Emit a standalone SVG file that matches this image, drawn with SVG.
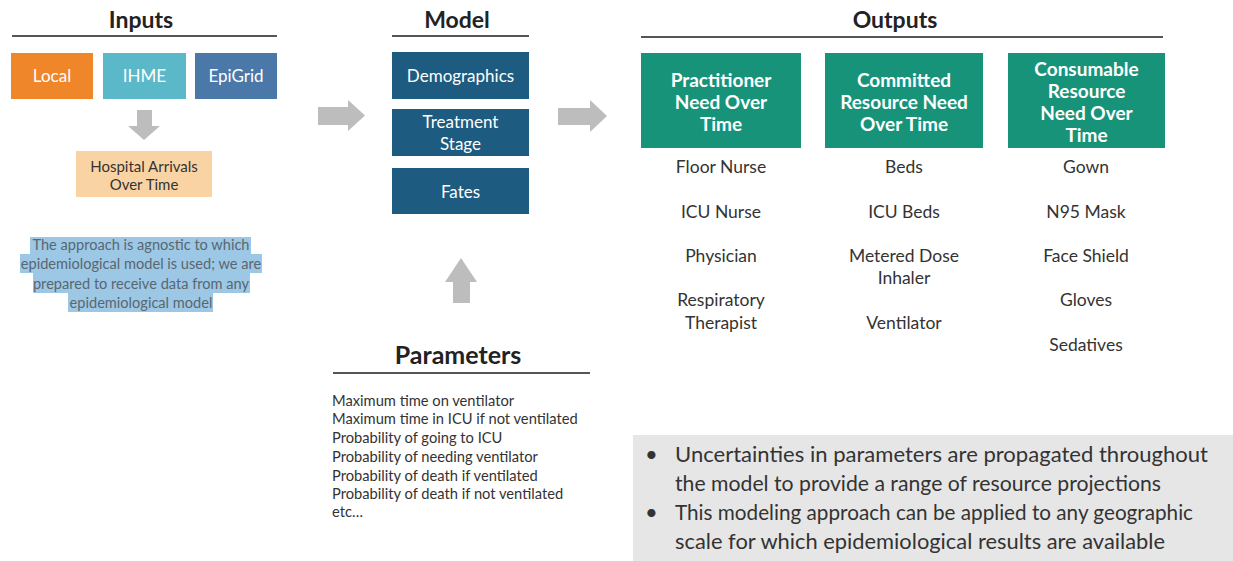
<svg xmlns="http://www.w3.org/2000/svg" width="1233" height="561" viewBox="0 0 1233 561">
<style>
.title{font-family:"Lato","Liberation Sans",sans-serif;font-weight:bold;font-size:23px;fill:#222;text-anchor:middle}
.rule{stroke:#555;stroke-width:2}
.wt{font-family:"Lato","Liberation Sans",sans-serif;font-size:17px;fill:#fff;text-anchor:middle}
.wb{font-family:"Lato","Liberation Sans",sans-serif;font-size:19px;font-weight:bold;fill:#fff;text-anchor:middle}
.dk{font-family:"Lato","Liberation Sans",sans-serif;font-size:17.5px;fill:#333;text-anchor:middle}
.hl{font-family:"Lato","Liberation Sans",sans-serif;font-size:14.6px;fill:#5a6670;text-anchor:middle}
.pm{font-family:"Lato","Liberation Sans",sans-serif;font-size:14.7px;fill:#333}
.bl{font-family:"Lato","Liberation Sans",sans-serif;font-size:22px;fill:#333}
.arrow{fill:#BDBDBD}
.model{fill:#1D5B80}
.out{fill:#17937A}
</style>
<rect width="1233" height="561" fill="#fff"/>

<g id="inputs-title">
<text class="title" x="141" y="28">Inputs</text>
<line class="rule" x1="12" y1="36" x2="277" y2="36"/>
</g>
<g id="node-local">
<rect x="11" y="53" width="82" height="46" fill="#F0862A"/>
<text class="wt" x="52" y="82">Local</text>
</g>
<g id="node-ihme">
<rect x="103" y="53" width="83" height="46" fill="#5BB8C8"/>
<text class="wt" x="144.5" y="82">IHME</text>
</g>
<g id="node-epigrid">
<rect x="195" y="53" width="82" height="46" fill="#4A78A8"/>
<text class="wt" x="236" y="82">EpiGrid</text>
</g>
<g id="node-arrivals">
<rect x="76" y="151" width="136" height="46" fill="#FAD3A5"/>
<text class="dk" x="144" y="172" style="font-size:15px">Hospital Arrivals</text>
<text class="dk" x="144" y="190" style="font-size:15px">Over Time</text>
</g>
<g id="note-agnostic">
<rect x="30" y="237" width="221" height="17" fill="#9CC8E6"/>
<rect x="20" y="254" width="242" height="19" fill="#9CC8E6"/>
<rect x="33" y="273" width="217" height="20" fill="#9CC8E6"/>
<rect x="68" y="293" width="145" height="19" fill="#9CC8E6"/>
<text class="hl" x="141" y="250">The approach is agnostic to which</text>
<text class="hl" x="141" y="269">epidemiological model is used; we are</text>
<text class="hl" x="141" y="289">prepared to receive data from any</text>
<text class="hl" x="141" y="308">epidemiological model</text>
</g>

<g id="model-title">
<text class="title" x="457" y="28">Model</text>
<line class="rule" x1="392" y1="36" x2="529" y2="36"/>
</g>
<g id="node-demographics">
<rect class="model" x="392" y="52" width="137" height="47"/>
<text class="wt" x="460.5" y="82">Demographics</text>
</g>
<g id="node-treatment">
<rect class="model" x="392" y="109" width="137" height="47"/>
<text class="wt" x="460.5" y="128">Treatment</text>
<text class="wt" x="460.5" y="150">Stage</text>
</g>
<g id="node-fates">
<rect class="model" x="392" y="168" width="137" height="46"/>
<text class="wt" x="460.5" y="198">Fates</text>
</g>

<g id="parameters">
<text class="title" x="458" y="364" style="font-size:25px">Parameters</text>
<line class="rule" x1="333" y1="373" x2="590" y2="373"/>
<text class="pm" x="332" y="406">Maximum time on ventilator</text>
<text class="pm" x="332" y="424">Maximum time in ICU if not ventilated</text>
<text class="pm" x="332" y="443">Probability of going to ICU</text>
<text class="pm" x="332" y="462">Probability of needing ventilator</text>
<text class="pm" x="332" y="481">Probability of death if ventilated</text>
<text class="pm" x="332" y="499">Probability of death if not ventilated</text>
<text class="pm" x="332" y="517">etc…</text>
</g>

<g id="outputs-title">
<text class="title" x="895" y="28">Outputs</text>
<line class="rule" x1="641" y1="37" x2="1163" y2="37"/>
</g>
<g id="node-practitioner">
<rect class="out" x="641" y="53" width="160" height="95"/>
<text class="wb" x="721" y="87">Practitioner</text>
<text class="wb" x="721" y="109">Need Over</text>
<text class="wb" x="721" y="131">Time</text>
<text class="dk" x="721" y="173">Floor Nurse</text>
<text class="dk" x="721" y="218">ICU Nurse</text>
<text class="dk" x="721" y="262">Physician</text>
<text class="dk" x="721" y="306">Respiratory</text>
<text class="dk" x="721" y="329">Therapist</text>
</g>
<g id="node-committed">
<rect class="out" x="825" y="53" width="158" height="95"/>
<text class="wb" x="904" y="87">Committed</text>
<text class="wb" x="904" y="109">Resource Need</text>
<text class="wb" x="904" y="131">Over Time</text>
<text class="dk" x="904" y="173">Beds</text>
<text class="dk" x="904" y="218">ICU Beds</text>
<text class="dk" x="904" y="262">Metered Dose</text>
<text class="dk" x="904" y="284">Inhaler</text>
<text class="dk" x="904" y="329">Ventilator</text>
</g>
<g id="node-consumable">
<rect class="out" x="1008" y="53" width="157" height="95"/>
<text class="wb" x="1086.5" y="76">Consumable</text>
<text class="wb" x="1086.5" y="98">Resource</text>
<text class="wb" x="1086.5" y="120">Need Over</text>
<text class="wb" x="1086.5" y="142">Time</text>
<text class="dk" x="1086" y="173">Gown</text>
<text class="dk" x="1086" y="218">N95 Mask</text>
<text class="dk" x="1086" y="262">Face Shield</text>
<text class="dk" x="1086" y="306">Gloves</text>
<text class="dk" x="1086" y="351">Sedatives</text>
</g>

<g id="note-bullets">
<rect x="633" y="435" width="600" height="126" fill="#E6E6E6"/>
<text class="bl" x="645" y="462">•</text>
<text class="bl" x="675" y="462" textLength="533" lengthAdjust="spacingAndGlyphs">Uncertainties in parameters are propagated throughout</text>
<text class="bl" x="675" y="491" textLength="486" lengthAdjust="spacingAndGlyphs">the model to provide a range of resource projections</text>
<text class="bl" x="645" y="520">•</text>
<text class="bl" x="675" y="520" textLength="518" lengthAdjust="spacingAndGlyphs">This modeling approach can be applied to any geographic</text>
<text class="bl" x="675" y="549" textLength="490" lengthAdjust="spacingAndGlyphs">scale for which epidemiological results are available</text>
</g>

<g id="connectors">
<polygon class="arrow" points="137,110 152,110 152,126 160,126 144,140 128,126 137,126"/>
<polygon class="arrow" points="318,107 348,107 348,100 365,115.5 348,131 348,125 318,125"/>
<polygon class="arrow" points="558,108 590,108 590,100 607,116 590,132 590,125 558,125"/>
<polygon class="arrow" points="453,303 470,303 470,282 477,282 461,258 445,282 453,282"/>
</g>
</svg>
